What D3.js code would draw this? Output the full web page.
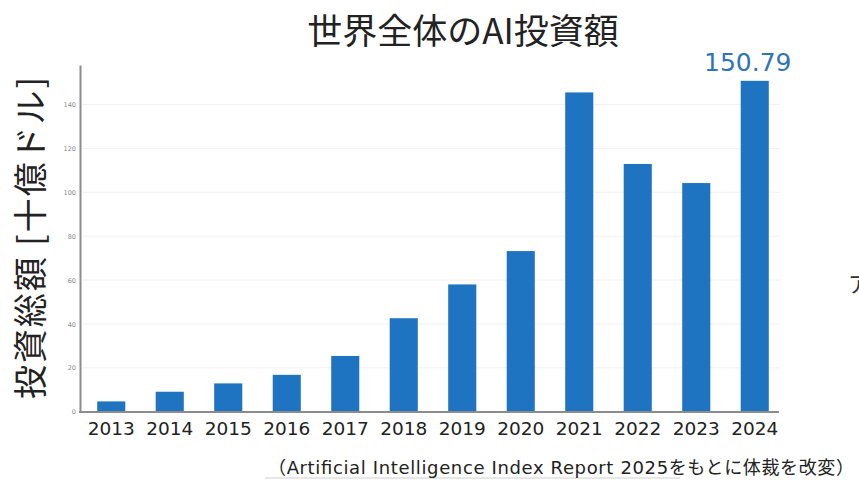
<!DOCTYPE html>
<html>
<head>
<meta charset="utf-8">
<script src="https://cdn.jsdelivr.net/npm/d3@7"></script>
<style>
  html, body { margin: 0; padding: 0; background: #fff; }
  svg { display: block; }
</style>
</head>
<body>
<svg id="chart" width="859" height="480"></svg>
<script>
// Global AI investment, billions of USD
const years = ["2013", "2014", "2015", "2016", "2017", "2018", "2019", "2020", "2021", "2022", "2023", "2024"];
const investment = [4.7, 9.1, 12.9, 16.8, 25.4, 42.6, 58.0, 73.2, 145.5, 112.9, 104.2, 150.79];
const yTicks = [0, 20, 40, 60, 80, 100, 120, 140];
const highlightYear = "2024";

const svg = d3.select("#chart");
const barColor = "#1f74c1";
const cjk = "'Noto Sans CJK JP', 'Noto Sans', sans-serif";
const latin = "'DejaVu Sans', 'Noto Sans CJK JP', sans-serif";

const x = d3.scaleBand().domain(years).range([82, 784]).paddingInner(0.52).paddingOuter(0.26);
const y = d3.scaleLinear().domain([0, 158]).range([411.7, 65]);

// faint horizontal grid
svg.append("g")
  .selectAll("line")
  .data(yTicks.filter(d => d > 0))
  .join("line")
  .attr("x1", 82).attr("x2", 780)
  .attr("y1", d => y(d)).attr("y2", d => y(d))
  .attr("stroke", "#f1f1f1").attr("stroke-width", 1);

// bars
svg.append("g")
  .selectAll("rect")
  .data(years.map((yr, i) => ({ yr, v: investment[i] })))
  .join("rect")
  .attr("x", d => x(d.yr))
  .attr("width", x.bandwidth())
  .attr("y", d => y(d.v))
  .attr("height", d => y(0) - y(d.v))
  .attr("fill", barColor);

// y axis
const yAxis = svg.append("g")
  .attr("transform", "translate(80,0)")
  .call(d3.axisLeft(y).tickValues(yTicks).tickSize(0).tickPadding(4));
yAxis.select(".domain").attr("stroke", "#8c8c8c").attr("stroke-width", 2);
yAxis.selectAll("text")
  .attr("fill", "#8a8a8a")
  .style("font-family", "'DejaVu Sans', sans-serif")
  .style("font-size", "6.5px");

// x axis
const xAxis = svg.append("g")
  .attr("transform", "translate(0,412)")
  .call(d3.axisBottom(x).tickSize(0).tickPadding(10));
xAxis.select(".domain").attr("stroke", "#8c8c8c").attr("stroke-width", 2)
  .attr("d", "M79,0H779");
xAxis.selectAll("text")
  .attr("fill", "#222")
  .style("font-family", latin)
  .style("font-size", "18.5px");

// value label on the latest year
const hiIdx = years.indexOf(highlightYear);
svg.append("text")
  .attr("x", x(highlightYear) + x.bandwidth() / 2 - 7)
  .attr("y", y(investment[hiIdx]) - 10)
  .attr("text-anchor", "middle")
  .attr("fill", "#2e75b6")
  .style("font-family", latin)
  .style("font-size", "25px")
  .text(investment[hiIdx].toFixed(2));

// title
svg.append("text")
  .attr("x", 463).attr("y", 44)
  .attr("text-anchor", "middle")
  .attr("fill", "#222")
  .style("font-family", cjk)
  .style("font-size", "35px")
  .text("世界全体のAI投資額");

// y axis title
svg.append("text")
  .attr("transform", "translate(43,238) rotate(-90)")
  .attr("text-anchor", "middle")
  .attr("fill", "#222")
  .style("font-family", cjk)
  .style("font-size", "34px")
  .attr("textLength", 322)
  .attr("lengthAdjust", "spacing")
  .text("投資総額 [十億ドル]");

// source note
svg.append("line")
  .attr("x1", 265).attr("x2", 680).attr("y1", 478).attr("y2", 478)
  .attr("stroke", "#cfcfcf").attr("stroke-width", 1);
svg.append("text")
  .attr("x", 268).attr("y", 474)
  .attr("fill", "#222")
  .style("font-family", latin)
  .style("font-size", "18px")
  .attr("textLength", 586)
  .attr("lengthAdjust", "spacing")
  .text("（Artificial Intelligence Index Report 2025をもとに体裁を改変）");

// clipped side text at the right edge
svg.append("text")
  .attr("x", 848).attr("y", 292)
  .attr("fill", "#333")
  .style("font-family", cjk)
  .style("font-size", "22px")
  .text("ア");
</script>
</body>
</html>
